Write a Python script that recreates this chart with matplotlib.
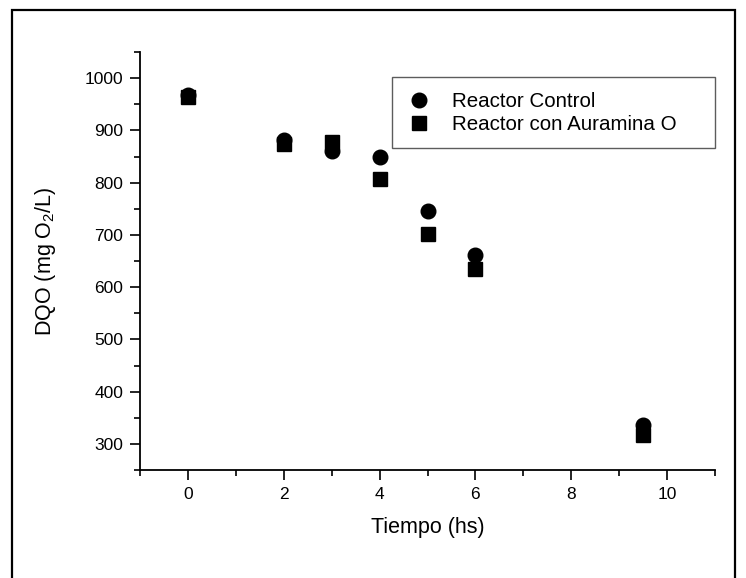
import matplotlib
matplotlib.use("Agg")
import matplotlib.pyplot as plt
from matplotlib.ticker import MultipleLocator
from matplotlib.patches import Rectangle

plt.rcParams['font.family'] = ['Liberation Sans', 'DejaVu Sans']
plt.rcParams['mathtext.fontset'] = 'custom'
plt.rcParams['mathtext.rm'] = 'Liberation Sans'

tiempo = [0, 2, 3, 4, 5, 6, 9.5]
control = [968, 882, 860, 850, 745, 661, 337]
auramina = [964, 873, 877, 807, 702, 634, 317]

fig = plt.figure(figsize=(7.46, 5.78), dpi=100)
ax = fig.add_axes([140/746, 1-470/578, (715-140)/746, (470-52)/578])

ax.plot(tiempo, control, 'o', color='black', markersize=10.5, linestyle='none',
        label='Reactor Control')
ax.plot(tiempo, auramina, 's', color='black', markersize=9.5, linestyle='none',
        label='Reactor con Auramina O')

ax.set_xlim(-1, 11)
ax.set_ylim(250, 1050)
ax.xaxis.set_major_locator(MultipleLocator(2))
ax.xaxis.set_minor_locator(MultipleLocator(1))
ax.yaxis.set_major_locator(MultipleLocator(100))
ax.yaxis.set_minor_locator(MultipleLocator(50))
ax.set_yticks(range(300, 1001, 100))

for s in ['top', 'right']:
    ax.spines[s].set_visible(False)
for s in ['left', 'bottom']:
    ax.spines[s].set_linewidth(1.3)

ax.tick_params(which='major', direction='out', length=7, width=1.2, labelsize=12.5, pad=5)
ax.tick_params(which='minor', direction='out', length=4, width=1.2)

ax.set_xlabel('Tiempo (hs)', fontsize=15.5, labelpad=11)
ax.set_ylabel('DQO (mg O$_2$/L)', fontsize=15.5, labelpad=19)

leg = fig.legend(loc='upper left',
                 bbox_to_anchor=(392/746, 1-78/578, (715-392)/746, 0.001),
                 mode='expand', fontsize=14.8, frameon=True, fancybox=False,
                 borderaxespad=0, handlelength=1.22, handletextpad=1.0,
                 borderpad=0.7, labelspacing=0.2)
leg.get_frame().set_edgecolor('#333333')
leg.get_frame().set_linewidth(1.0)

frame = Rectangle((12/746, -0.05), (735-12)/746, 1.05 - 10/578, transform=fig.transFigure,
                  fill=False, edgecolor='black', linewidth=1.6)
fig.patches.append(frame)

fig.savefig('out.png', dpi=100)
